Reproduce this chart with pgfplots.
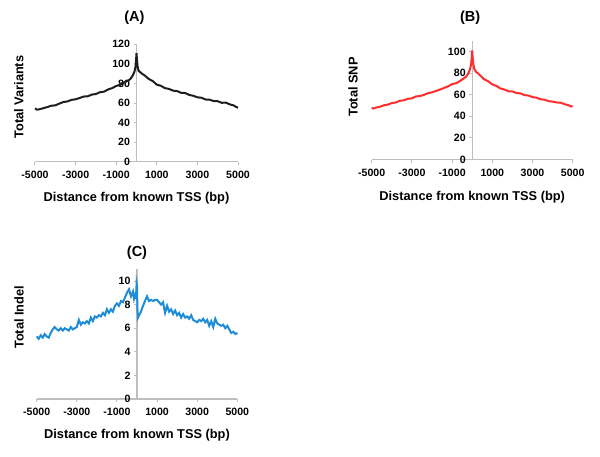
\documentclass[border=0pt]{standalone}
\usepackage{pgfplots}
\pgfplotsset{compat=1.18}
\usepackage{fontspec}
\setmainfont{Liberation Sans}
\definecolor{axgray}{RGB}{190,190,190}
\definecolor{cA}{RGB}{30,30,30}
\definecolor{cB}{RGB}{255,45,45}
\definecolor{cC}{RGB}{30,140,215}
\tikzset{ttl/.style={font=\fontsize{14.5}{16}\selectfont\bfseries, anchor=center, inner sep=0pt}}
\pgfplotsset{
 myax/.style={
  scale only axis,
  axis x line=bottom, axis y line=center,
  axis line style={-, draw=axgray, line width=1.2pt},
  every inner x axis line/.append style={-},
  every inner y axis line/.append style={-},
  every outer x axis line/.append style={-},
  every outer y axis line/.append style={-},
  xmin=-5000, xmax=5000, ymin=0,
  xtick={-5000,-3000,-1000,1000,3000,5000},
  xticklabels={-5000,-3000,-1000,1000,3000,5000},
  tick align=outside, major tick length=3pt,
  tick style={axgray, line width=1pt},
  tick label style={font=\fontsize{10.6}{12}\selectfont\bfseries},
  xticklabel style={yshift=-3pt},
  /pgf/number format/assume math mode=true,
  /pgf/number format/1000 sep={},
  hide obscured x ticks=false, hide obscured y ticks=false,
  label style={font=\fontsize{12.8}{14}\selectfont\bfseries},
  clip=false,
  anchor=south west,
 },
}
\begin{document}
\begin{tikzpicture}
\path[use as bounding box] (0pt,0pt) rectangle (600pt,456pt);
% (A)
\begin{axis}[myax, at={(35pt,294.3pt)}, width=203pt, height=117.4pt,
  ymax=120, ytick={0,20,...,120},
  xlabel={Distance from known TSS (bp)}, xlabel style={at={(axis description cs:0.5,0)}, anchor=center, yshift=-36pt},
  ylabel={Total Variants}, ylabel style={at={(axis description cs:-0.08,0.55)}, anchor=center, rotate=90}]
\addplot[cA, line width=2pt] coordinates {(-5000,54.5) (-4900,53.2) (-4800,53.5) (-4600,54.6) (-4400,55.8) (-4200,57.2) (-4000,57.6) (-3800,59.4) (-3600,61.0) (-3400,61.6) (-3200,63.2) (-3000,63.8) (-2800,65.1) (-2600,66.6) (-2400,66.9) (-2200,68.6) (-2000,69.2) (-1800,71.0) (-1600,71.6) (-1400,73.8) (-1200,75.2) (-1000,77.4) (-800,78.6) (-600,81.2) (-400,83.0) (-300,84.6) (-200,87.5) (-100,92) (-50,97) (-20,104) (0,111) (20,105) (50,98) (100,93) (200,91.2) (300,89.5) (400,88.2) (600,84.6) (800,82.4) (1000,78.8) (1200,77.6) (1400,75.2) (1600,74.4) (1800,72.6) (2000,72.2) (2200,70.4) (2400,70.2) (2600,68.2) (2800,67.4) (3000,65.8) (3200,65.4) (3400,63.6) (3600,63.4) (3800,62.0) (4000,61.8) (4200,60.2) (4400,60.4) (4600,58.6) (4800,57.4) (4900,56.0) (5000,55.2)};
\node[ttl] at ([yshift=26.3pt]axis description cs:0.49,1) {(A)};
\end{axis}
% (B)
\begin{axis}[myax, at={(371.7pt,296.5pt)}, width=201pt, height=118.8pt,
  ymax=110, ytick={0,20,...,100},
  xlabel={Distance from known TSS (bp)}, xlabel style={at={(axis description cs:0.5,0)}, anchor=center, yshift=-37.5pt},
  ylabel={Total SNP}, ylabel style={at={(axis description cs:-0.093,0.61)}, anchor=center, rotate=90}]
\addplot[cB, line width=2pt] coordinates {(-5000,47.8) (-4900,47.2) (-4800,48.0) (-4600,48.8) (-4400,50.2) (-4200,50.8) (-4000,52.2) (-3800,52.8) (-3600,54.4) (-3400,54.8) (-3200,56.2) (-3000,56.6) (-2800,58.4) (-2600,58.8) (-2400,59.8) (-2200,61.4) (-2000,62.2) (-1800,63.4) (-1600,64.8) (-1400,66.2) (-1200,67.8) (-1000,69.8) (-800,70.6) (-600,72.8) (-400,75.4) (-300,76.8) (-200,79.5) (-100,84) (-50,89) (-20,95) (0,101) (20,95) (50,89) (100,84) (200,81) (300,79.6) (400,77.8) (600,74.2) (800,72.4) (1000,69.6) (1200,68.2) (1400,65.8) (1600,64.8) (1800,63.2) (2000,63.0) (2200,61.6) (2400,61.2) (2600,59.6) (2800,59.2) (3000,57.8) (3200,57.2) (3400,55.8) (3600,55.4) (3800,54.0) (4000,53.6) (4200,52.8) (4400,52.6) (4600,51.2) (4800,50.2) (4900,49.2) (5000,49.4)};
\node[ttl] at ([yshift=23.4pt]axis description cs:0.49,1) {(B)};
\end{axis}
% (C)
\begin{axis}[myax, at={(36.7pt,57pt)}, width=200.6pt, height=129.8pt,
  ymax=11, ytick={0,2,...,10},
  xlabel={Distance from known TSS (bp)}, xlabel style={at={(axis description cs:0.5,0)}, anchor=center, yshift=-36.3pt},
  ylabel={Total Indel}, ylabel style={at={(axis description cs:-0.088,0.63)}, anchor=center, rotate=90}]
\addplot[cC, line width=2pt] coordinates {(-5000,5.3) (-4900,5.1) (-4800,5.4) (-4700,5.2) (-4600,5.5) (-4500,5.3) (-4400,5.2) (-4300,5.6) (-4200,5.9) (-4100,6.1) (-4000,5.9) (-3900,5.8) (-3800,6.0) (-3700,5.8) (-3600,6.0) (-3500,5.9) (-3400,5.8) (-3300,6.1) (-3200,5.9) (-3100,6.0) (-3000,6.1) (-2900,6.7) (-2800,6.3) (-2700,6.5) (-2600,6.4) (-2500,6.6) (-2400,6.4) (-2300,6.9) (-2200,6.6) (-2100,7.0) (-2000,6.9) (-1900,7.1) (-1800,7.0) (-1700,7.3) (-1600,7.1) (-1500,7.6) (-1400,7.3) (-1300,7.6) (-1200,7.4) (-1100,7.9) (-1000,8.1) (-900,7.9) (-800,8.3) (-700,8.2) (-600,8.6) (-500,9.0) (-400,9.3) (-300,8.7) (-200,9.1) (-150,8.5) (-100,8.8) (-50,8.6) (-20,9.8) (0,9.6) (20,7.6) (50,6.9) (100,7.1) (200,7.4) (300,7.9) (400,8.3) (500,8.7) (600,8.3) (700,8.4) (800,8.3) (900,8.4) (1000,8.4) (1100,8.2) (1200,8.0) (1300,8.2) (1400,7.3) (1500,7.9) (1600,7.4) (1700,7.6) (1800,7.2) (1900,7.5) (2000,7.1) (2100,7.3) (2200,6.9) (2300,7.2) (2400,6.9) (2500,7.0) (2600,6.8) (2700,7.1) (2800,6.7) (2900,6.6) (3000,6.5) (3100,6.7) (3200,6.6) (3300,6.8) (3400,6.5) (3500,6.7) (3600,6.2) (3700,6.6) (3800,6.1) (3900,6.8) (4000,6.4) (4100,6.3) (4200,6.2) (4300,6.3) (4400,6.0) (4500,6.2) (4600,5.9) (4700,5.6) (4800,5.7) (4900,5.5) (5000,5.6)};
\node[ttl] at ([yshift=16.2pt]axis description cs:0.5,1) {(C)};
\end{axis}
\end{tikzpicture}
\end{document}
